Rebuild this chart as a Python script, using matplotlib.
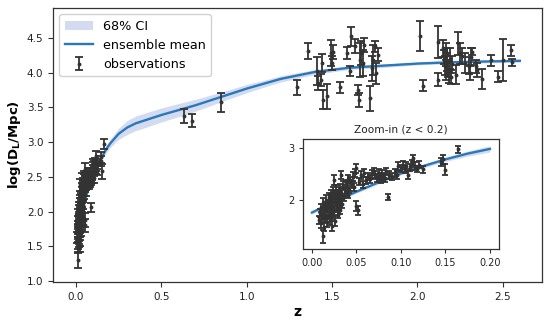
import matplotlib
matplotlib.use("Agg")
import matplotlib.pyplot as plt
import numpy as np

# ---- ensemble mean curve and 68% CI ----
curve_z = [0.0, 0.025, 0.05, 0.075, 0.1, 0.125, 0.15, 0.175, 0.2, 0.25, 0.3, 0.35, 0.4,
           0.5, 0.6, 0.7, 0.8, 0.9, 1.0, 1.1, 1.2, 1.3, 1.4, 1.5, 1.6, 1.8, 2.0, 2.2, 2.4, 2.6]
curve_mean = [1.76, 1.97, 2.16, 2.34, 2.51, 2.65, 2.78, 2.89, 2.98, 3.12, 3.21, 3.27, 3.31,
              3.39, 3.46, 3.53, 3.61, 3.69, 3.77, 3.84, 3.91, 3.96, 4.01, 4.04, 4.07, 4.10,
              4.13, 4.15, 4.16, 4.17]
curve_half = [0.03, 0.03, 0.03, 0.03, 0.03, 0.035, 0.04, 0.05, 0.06, 0.08, 0.10, 0.105, 0.105,
              0.10, 0.095, 0.085, 0.075, 0.065, 0.06, 0.05, 0.045, 0.04, 0.035, 0.03, 0.025,
              0.025, 0.02, 0.02, 0.02, 0.02]

# ---- observations: low redshift ----
low_z = [0.008, 0.009, 0.010, 0.010, 0.011, 0.012, 0.012, 0.013, 0.013, 0.014, 0.015, 0.015,
         0.016, 0.016, 0.017, 0.018, 0.018, 0.019, 0.019, 0.020, 0.020, 0.021, 0.021, 0.022,
         0.022, 0.023, 0.023, 0.024, 0.024, 0.025, 0.025, 0.026, 0.026, 0.027, 0.027, 0.028,
         0.028, 0.029, 0.029, 0.030, 0.030, 0.031, 0.031, 0.032, 0.032, 0.033, 0.033, 0.034,
         0.035, 0.036, 0.037, 0.038, 0.039, 0.040, 0.041, 0.042, 0.043, 0.045, 0.046, 0.047,
         0.048, 0.050, 0.050, 0.052, 0.053, 0.055, 0.057, 0.059, 0.061, 0.063, 0.065, 0.067,
         0.070, 0.071, 0.073, 0.075, 0.076, 0.078, 0.079, 0.080, 0.082, 0.083, 0.085, 0.087,
         0.090, 0.093, 0.095, 0.097, 0.100, 0.102, 0.104, 0.106, 0.108, 0.110, 0.112, 0.114,
         0.116, 0.118, 0.120, 0.125, 0.145, 0.147, 0.150, 0.164]
low_y = [1.62, 1.75, 1.55, 1.85, 1.68, 1.30, 1.95, 1.78, 1.48, 1.72, 1.88, 1.65,
         2.00, 1.80, 1.58, 1.92, 1.70, 2.05, 1.85, 1.75, 1.62, 2.10, 1.95, 1.82,
         1.50, 2.02, 1.70, 2.15, 1.88, 2.38, 1.78, 2.05, 1.60, 1.95, 2.20, 1.85,
         2.10, 1.72, 2.00, 2.18, 1.90, 2.08, 1.80, 2.22, 1.98, 2.48, 2.12, 1.92,
         2.28, 2.05, 2.15, 2.32, 2.25, 2.10, 2.40, 2.20, 2.38, 2.30, 2.45, 2.25,
         2.52, 2.61, 1.88, 1.80, 2.35, 2.48, 2.30, 2.52, 2.38, 2.45, 2.40, 2.50,
         2.55, 2.48, 2.42, 2.52, 2.45, 2.40, 2.50, 2.45, 2.42, 2.55, 2.06, 2.48,
         2.45, 2.52, 2.48, 2.65, 2.60, 2.68, 2.58, 2.66, 2.48, 2.62, 2.70, 2.80,
         2.65, 2.60, 2.68, 2.59, 2.73, 2.78, 2.58, 2.97]
low_err = [0.08, 0.07, 0.09, 0.08, 0.07, 0.12, 0.09, 0.08, 0.08, 0.09, 0.08, 0.07,
           0.09, 0.08, 0.09, 0.08, 0.07, 0.09, 0.08, 0.07, 0.09, 0.09, 0.08, 0.07,
           0.09, 0.08, 0.07, 0.09, 0.08, 0.09, 0.07, 0.08, 0.09, 0.07, 0.08, 0.08,
           0.09, 0.07, 0.08, 0.07, 0.09, 0.08, 0.07, 0.08, 0.07, 0.07, 0.09, 0.08,
           0.08, 0.07, 0.08, 0.07, 0.09, 0.07, 0.08, 0.07, 0.07, 0.07, 0.09, 0.07,
           0.07, 0.09, 0.10, 0.09, 0.07, 0.07, 0.07, 0.07, 0.07, 0.07, 0.07, 0.07,
           0.07, 0.07, 0.07, 0.07, 0.07, 0.07, 0.07, 0.07, 0.07, 0.07, 0.06, 0.07,
           0.07, 0.07, 0.07, 0.07, 0.07, 0.07, 0.07, 0.07, 0.07, 0.07, 0.07, 0.07,
           0.07, 0.06, 0.07, 0.07, 0.07, 0.08, 0.11, 0.07]

# ---- observations: intermediate and high redshift ----
high_z = [0.633, 0.680, 0.850,
          1.297, 1.358, 1.410, 1.420, 1.434, 1.440, 1.446, 1.470, 1.493, 1.499, 1.503,
          1.544, 1.587, 1.606, 1.612, 1.635, 1.649, 1.655, 1.661, 1.670, 1.680, 1.688,
          1.720, 1.733, 1.740, 1.750, 1.760, 1.770,
          2.016, 2.030, 2.118, 2.118, 2.150, 2.155, 2.160, 2.165, 2.170, 2.172, 2.175,
          2.180, 2.185, 2.190, 2.198, 2.205, 2.227, 2.240, 2.250, 2.260, 2.280, 2.300,
          2.314, 2.310, 2.320, 2.345, 2.350, 2.380, 2.430, 2.470, 2.500, 2.550, 2.554]
high_y = [3.37, 3.31, 3.57,
          3.79, 4.31, 4.02, 3.85, 3.89, 4.14, 3.61, 3.66, 4.28, 4.14, 4.30,
          3.79, 4.28, 4.02, 4.52, 4.38, 3.75, 3.61, 4.18, 4.28, 4.14, 4.40,
          3.63, 4.06, 4.18, 4.38, 3.99, 4.26,
          4.53, 3.81, 4.44, 3.90, 4.35, 4.22, 4.10, 4.30, 4.00, 4.15, 4.25,
          4.05, 3.95, 4.20, 3.94, 4.12, 3.97, 4.42, 4.28, 4.24, 4.14, 4.10,
          4.23, 4.00, 4.30, 4.09, 4.04, 3.91, 4.18, 3.94, 4.18, 4.32, 4.15]
high_err = [0.10, 0.09, 0.14,
            0.11, 0.115, 0.20, 0.10, 0.09, 0.13, 0.14, 0.18, 0.19, 0.10, 0.10,
            0.08, 0.09, 0.07, 0.14, 0.10, 0.07, 0.10, 0.24, 0.17, 0.19, 0.10,
            0.18, 0.18, 0.22, 0.08, 0.15, 0.10,
            0.22, 0.08, 0.23, 0.10, 0.12, 0.10, 0.14, 0.12, 0.10, 0.13, 0.10,
            0.12, 0.10, 0.15, 0.10, 0.12, 0.14, 0.17, 0.15, 0.12, 0.14, 0.12,
            0.12, 0.10, 0.05, 0.09, 0.10, 0.14, 0.08, 0.08, 0.30, 0.08, 0.05]

obs_z = low_z + high_z
obs_y = low_y + high_y
obs_err = low_err + high_err

# ---- style ----
mean_color = "#2a78b9"
band_color = "#d3dbf0"
obs_color = "#333333"

fig = plt.figure(figsize=(5.5, 3.22), dpi=100)
ax = fig.add_axes([0.0964, 0.1242, 0.8891, 0.8509])

band = ax.fill_between(curve_z, np.array(curve_mean) - np.array(curve_half),
                       np.array(curve_mean) + np.array(curve_half),
                       color=band_color, linewidth=0, label="68% CI", zorder=1)
line, = ax.plot(curve_z, curve_mean, color=mean_color, linewidth=1.7,
                label="ensemble mean", zorder=2)
eb = ax.errorbar(obs_z, obs_y, yerr=obs_err, fmt="o", markersize=1.8, color=obs_color,
                 ecolor=obs_color, elinewidth=1.3, capsize=2.6, capthick=1.3,
                 label="observations", zorder=3)

ax.set_xlim(-0.135, 2.73)
ax.set_ylim(0.985, 4.93)
ax.set_xticks([0.0, 0.5, 1.0, 1.5, 2.0, 2.5])
ax.set_yticks([1.0, 1.5, 2.0, 2.5, 3.0, 3.5, 4.0, 4.5])
ax.tick_params(labelsize=7.5, length=3.5, width=0.8, colors="#333333", labelcolor="#222222")
for s in ax.spines.values():
    s.set_color("#333333")
    s.set_linewidth(0.9)
ax.set_xlabel("z", fontsize=10, fontweight="bold", labelpad=2)
ax.set_ylabel(r"log(D$_\mathbf{L}$/Mpc)", fontsize=9.5, fontweight="bold", labelpad=3)

leg = ax.legend(handles=[band, line, eb], labels=["68% CI", "ensemble mean", "observations"],
                loc="upper left", fontsize=9.2, handlelength=2.2, borderaxespad=0.5,
                framealpha=0.9, edgecolor="#cccccc")

# ---- inset ----
axin = fig.add_axes([0.551, 0.2267, 0.356, 0.3416])
axin.fill_between(curve_z[:9], np.array(curve_mean[:9]) - np.array(curve_half[:9]),
                  np.array(curve_mean[:9]) + np.array(curve_half[:9]),
                  color=band_color, linewidth=0, zorder=1)
axin.plot(curve_z[:9], curve_mean[:9], color=mean_color, linewidth=1.7, zorder=2)
axin.errorbar(low_z, low_y, yerr=low_err, fmt="o", markersize=1.8, color=obs_color,
              ecolor=obs_color, elinewidth=1.3, capsize=2.4, capthick=1.3, zorder=3)
axin.set_xlim(-0.01, 0.21)
axin.set_ylim(1.06, 3.17)
axin.set_xticks([0.0, 0.05, 0.10, 0.15, 0.20])
axin.set_xticklabels(["0.00", "0.05", "0.10", "0.15", "0.20"])
axin.set_yticks([2, 3])
axin.set_yticklabels(["2", "3"])
axin.tick_params(labelsize=7, length=3, width=0.8, colors="#333333", labelcolor="#222222")
for s in axin.spines.values():
    s.set_color("#333333")
    s.set_linewidth(0.9)
axin.set_title("Zoom-in (z < 0.2)", fontsize=7.6, pad=5, color="#222222")

fig.savefig("out.png", dpi=100)
